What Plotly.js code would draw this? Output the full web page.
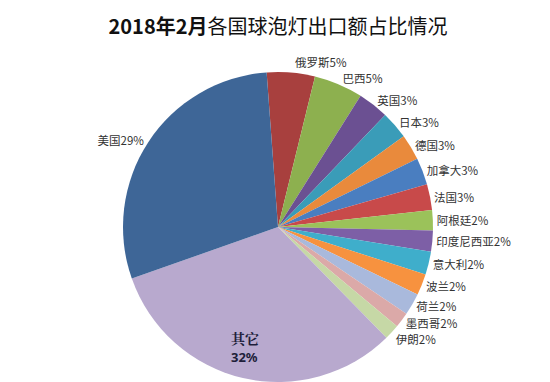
<!DOCTYPE html>
<html><head><meta charset="utf-8">
<script src="https://cdn.plot.ly/plotly-3.0.1.min.js"></script>
<style>body{margin:0;background:#fff}#chart{width:550px;height:382px}path.textline{display:none !important}</style>
</head><body><div id="chart"></div>
<script>
const countries = ["俄罗斯","巴西","英国","日本","德国","加拿大","法国","阿根廷","印度尼西亚","意大利","波兰","荷兰","墨西哥","伊朗","其它","美国"];
const shares = [5.0, 5.1, 3.2, 2.9, 2.7, 2.8, 2.7, 2.1, 2.2, 2.4, 2.2, 2.3, 1.6, 1.6, 31.9, 29.2];
const sliceColors = ["#A8403E","#8DB04F","#6B5092","#3A9CB8","#E98A3C","#4A7EC0","#C84A4A","#9BC25A","#7D5FA6","#3FAECB","#F7923F","#A9B9DC","#DBA9A8","#C6D8A6","#B8A9CE","#3E6697"];
const titleText = "<b>2018年2月</b>各国球泡灯出口额占比情况";

const insideName = "其它";
const total = shares.reduce((a, b) => a + b, 0);
const insideIdx = countries.indexOf(insideName);
const insidePct = Math.round(shares[insideIdx] / total * 100);

const textpos = countries.map(c => c === insideName ? "none" : "outside");

const trace = {
  type: "pie",
  labels: countries,
  values: shares,
  sort: false,
  direction: "clockwise",
  rotation: -4.2,
  marker: {colors: sliceColors, line: {width: 0}},
  textposition: textpos,
  texttemplate: "%{label}%{percent:.0%}",
  outsidetextfont: {family: "Noto Sans CJK SC, sans-serif", size: 11.5, color: "#333"},
  hoverinfo: "label+percent",
  showlegend: false
};

const layout = {
  width: 550, height: 382,
  margin: {l: 6, r: 0, t: 72, b: 0},
  paper_bgcolor: "#fff",
  title: {
    text: titleText,
    x: 0.5, xref: "paper", xanchor: "center",
    y: 1 - 27/382, yref: "container", yanchor: "middle",
    font: {family: "Noto Sans CJK SC, sans-serif", size: 20, color: "#111"}
  },
  annotations: [
    {
      text: "<b>" + countries[insideIdx] + "</b>",
      xref: "paper", yref: "paper", x: 0.439, y: 0.142,
      xanchor: "center", yanchor: "middle", showarrow: false,
      font: {family: "Noto Serif CJK SC, Noto Sans CJK SC, serif", size: 14, color: "#1e1e3a"}
    },
    {
      text: "<b>" + insidePct + "%</b>",
      xref: "paper", yref: "paper", x: 0.439, y: 0.081,
      xanchor: "center", yanchor: "middle", showarrow: false,
      font: {family: "Noto Sans, Noto Sans CJK SC, sans-serif", size: 13, color: "#1e1e3a"}
    }
  ],
  showlegend: false
};

Plotly.newPlot("chart", [trace], layout, {displayModeBar: false, staticPlot: true});
</script>
</body></html>
